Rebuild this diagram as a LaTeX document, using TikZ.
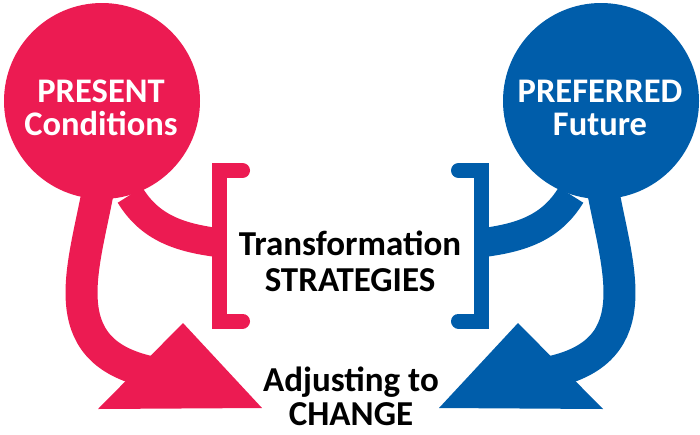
\documentclass[tikz,border=0pt]{standalone}
\usepackage{fontspec}
\setmainfont{Carlito}
\usetikzlibrary{positioning}

\definecolor{presred}{RGB}{236,27,82}
\definecolor{prefblue}{RGB}{0,93,170}

% one side: stem to the arrow head, branch to the bracket
\newcommand\changearm[2]{%
\coordinate (#2stem) at (99,185);
\coordinate (#2bend) at (150,372);
\coordinate (#2fork) at (130,195);
\coordinate (#2join) at (221,243);
\draw [#1, line width=32] (#2stem) .. controls (85,265) and (50,350) .. (#2bend);
\draw [#1, line width=29] (#2fork) .. controls (150,228) and (180,238) .. (#2join);
\fill [#1] (98,409) -- (183,323) -- (262,408) -- cycle;
\draw [#1, line width=15, line cap=round] (242.5,170.5) -- (219.5,170.5) -- (219.5,321) -- (242.5,321);
}

\begin{document}
\begin{tikzpicture}[x=1pt, y=-1pt]
\tikzset{bubble/.style={circle, minimum size=196, inner sep=0pt},
  inside/.style={white, font=\bfseries\fontsize{34.5}{33}\selectfont, align=center, inner sep=0pt},
  middle/.style={black, font=\bfseries\fontsize{35}{36}\selectfont, align=center, inner sep=0pt}}
\useasboundingbox (0,0) rectangle (700,434);
\begin{scope}
\changearm{presred}{p}
\end{scope}
\begin{scope}[xshift=701pt, xscale=-1]
\changearm{prefblue}{f}
\end{scope}
\node [bubble, fill=presred] (present) at (102,101) {};
\node [bubble, fill=prefblue] (preferred) at (601,101) {};
\node [inside] (presenttext) at (101,108) {PRESENT\\Conditions};
\node [inside] (preferredtext) at (600,108) {PREFERRED\\Future};
\node [middle] (strategies) at (350,261) {Transformation\\STRATEGIES};
\node [middle, font=\bfseries\fontsize{35}{34}\selectfont] (change) at (351,396) {Adjusting to\\CHANGE};
\end{tikzpicture}
\end{document}
